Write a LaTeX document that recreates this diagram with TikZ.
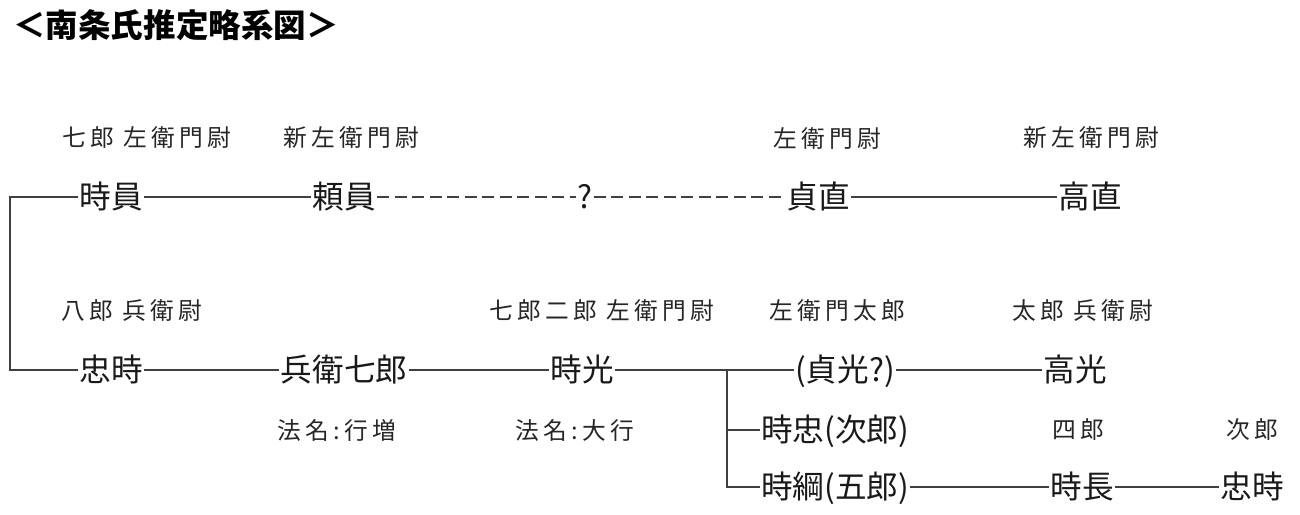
\documentclass[tikz,border=0pt]{standalone}
\usepackage{fontspec}
\setmainfont{Noto Sans CJK JP}
\usetikzlibrary{calc}

\begin{document}
\begin{tikzpicture}[x=0.02cm, y=-0.02cm,
		person/.style={inner sep=0.6pt, text height=15.6pt, text depth=2.1pt, font=\fontsize{18}{20}\selectfont, text=black!90},
		note/.style={inner sep=0pt, font=\fontsize{13.5}{15}\selectfont\addfontfeature{LetterSpace=18}, text=black!85},
		link/.style={line width=0.9pt, color=black!75}]
			%%%%% START %%%%%
			
			\useasboundingbox (0, 0) rectangle (1300, 514);
			
			\node[font=\fontsize{18.5}{20}\selectfont\bfseries] (title) at (176, 25) {＜南条氏推定略系図＞};
			
			% upper line
			\node[person] (tokikazu) at (111, 197) {時員};
			\node[person] (yorikazu) at (344, 197) {頼員};
			\node[person] (unknown) at (585, 197) {?};
			\node[person] (sadanao) at (818, 197) {貞直};
			\node[person] (takanao) at (1090, 197) {高直};
			
			\node[note] (n1) at (147, 138) {七郎 左衛門尉};
			\node[note] (n2) at (351, 138) {新左衛門尉};
			\node[note] (n3) at (827, 138) {左衛門尉};
			\node[note] (n4) at (1091, 138) {新左衛門尉};
			
			% lower line
			\node[person] (tadatoki) at (111, 370) {忠時};
			\node[person] (hyoe) at (344, 370) {兵衛七郎};
			\node[person] (tokimitsu) at (582, 370) {時光};
			\node[person] (sadamitsu) at (845, 370) {(貞光?)};
			\node[person] (takamitsu) at (1075, 370) {高光};
			\node[person] (tokitada) at (835, 430) {時忠(次郎)};
			\node[person] (tokitsuna) at (835, 487) {時綱(五郎)};
			\node[person] (tokinaga) at (1082, 487) {時長};
			\node[person] (tadatokib) at (1252, 487) {忠時};
			
			\node[note] (n5) at (132, 311) {八郎 兵衛尉};
			\node[note] (n6) at (602, 311) {七郎二郎 左衛門尉};
			\node[note] (n7) at (837, 311) {左衛門太郎};
			\node[note] (n8) at (1083, 311) {太郎 兵衛尉};
			\node[note] (n9) at (337, 430) {法名:行増};
			\node[note] (n10) at (575, 430) {法名:大行};
			\node[note] (n11) at (1078, 430) {四郎};
			\node[note] (n12) at (1252, 430) {次郎};
			
			% connectors
			\coordinate (rootA) at (10, 197);
			\coordinate (rootB) at (10, 370);
			\draw[link] (tokikazu.west) -- (rootA) -- (rootB) -- (tadatoki.west);
			\draw[link] (tokikazu.east) -- (yorikazu.west);
			\draw[link, dash pattern=on 0.24cm off 0.11cm] (yorikazu.east) -- (unknown.west);
			\draw[link, dash pattern=on 0.24cm off 0.11cm] (unknown.east) -- (sadanao.west);
			\draw[link] (sadanao.east) -- (takanao.west);
			
			\draw[link] (tadatoki.east) -- (hyoe.west);
			\draw[link] (hyoe.east) -- (tokimitsu.west);
			\draw[link] (tokimitsu.east) -- (sadamitsu.west);
			\draw[link] (sadamitsu.east) -- (takamitsu.west);
			
			\coordinate (forkA) at (727, 370);
			\coordinate (forkB) at (727, 430);
			\coordinate (forkC) at (727, 487);
			\draw[link] (forkA) -- (forkC) -- (tokitsuna.west);
			\draw[link] (forkB) -- (tokitada.west);
			\draw[link] (tokitsuna.east) -- (tokinaga.west);
			\draw[link] (tokinaga.east) -- (tadatokib.west);
			
			%%%%% END %%%%%
\end{tikzpicture}
\end{document}
